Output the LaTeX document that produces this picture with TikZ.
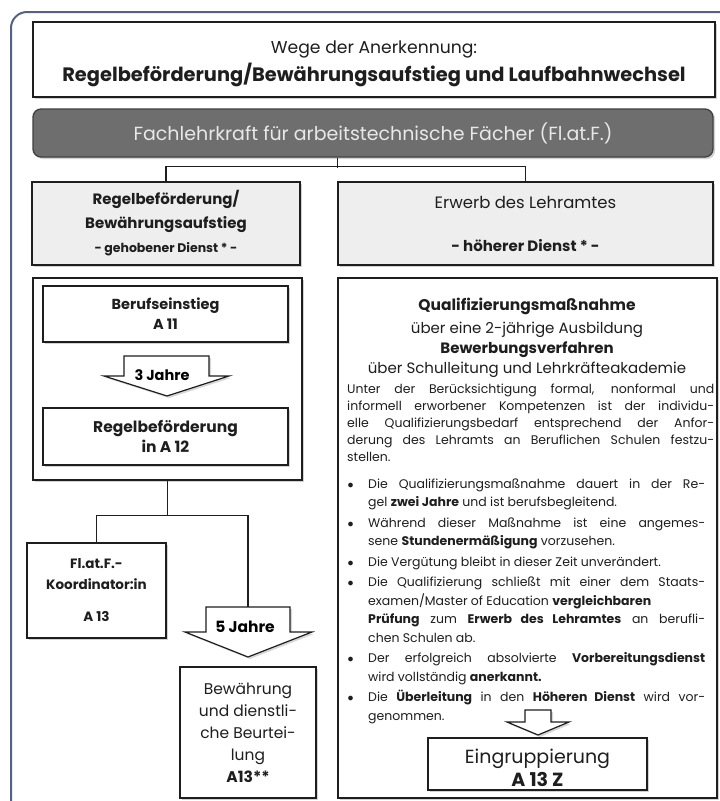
\documentclass[tikz,border=0pt]{standalone}
\usepackage{fontspec}
\setmainfont{Poppins}
\usetikzlibrary{shapes,arrows,shadows}
\definecolor{framegray}{RGB}{88,98,128}
\definecolor{bargray}{RGB}{110,110,110}
\definecolor{bartext}{RGB}{232,232,232}
\definecolor{headgray}{RGB}{238,238,238}
\definecolor{inkgray}{RGB}{30,30,30}
\newcommand{\fs}[2]{\fontsize{#1}{#2}\selectfont}
\newcommand{\bitem}{\par\noindent\hangindent=21pt\hangafter=1\makebox[21pt][l]{\hspace{0.5pt}$\bullet$}\ignorespaces}
\tikzstyle{box} = [draw=inkgray, line width=1.3pt, fill=white, rectangle, align=center,
    inner sep=0pt, text=inkgray,
    drop shadow={shadow xshift=2pt, shadow yshift=-2pt, opacity=0.35}]
\tikzstyle{headbox} = [box, fill=headgray]
\tikzstyle{link} = [draw=inkgray, line width=1.4pt]
\tikzstyle{bigarrow} = [draw=inkgray, line width=1.2pt, fill=white, line join=miter,
    drop shadow={shadow xshift=2pt, shadow yshift=-2pt, opacity=0.3}]
\tikzstyle{textblock} = [inner sep=0pt, text=inkgray, align=justify]

\begin{document}
\begin{tikzpicture}[x=1pt,y=-1pt]
    \useasboundingbox (0,0) rectangle (720,801);
    \fill[white] (0,0) rectangle (720,801);
    \begin{scope}
        \clip (0,0) rectangle (720,801);
        \draw[framegray, line width=2pt, rounded corners=16] (11,12) rectangle (760,830);
    \end{scope}

    % top
    \node[box, minimum width=682, minimum height=75, font=\fs{17.2}{28}] (title) at (374,59.5)
        {\rule{0pt}{21.5pt}Wege der Anerkennung:\\
         \fs{19.4}{28}\bfseries Regelbeförderung/Bewährungsaufstieg und Laufbahnwechsel};
    \node[box, fill=bargray, draw=inkgray!85, rounded corners=8, text=bartext,
        minimum width=680, minimum height=48, font=\fs{19}{22}] (fachbar) at (373,133)
        {Fachlehrkraft für arbeitstechnische Fächer (Fl.at.F.)};

    \node[headbox, minimum width=268, minimum height=83, font=\bfseries\fs{15}{24}] (lhead) at (166,223.5)
        {Regelbeförderung/\\Bewährungsaufstieg\\
         \fs{12.5}{24}- gehobener Dienst * -};
    \node[headbox, minimum width=375, minimum height=83, font=\fs{16.5}{22}] (rhead) at (525.5,223.5)
        {Erwerb des Lehramtes\\[21pt]
         \bfseries\fs{15}{22}- höherer Dienst * -};
    \draw[link] (fachbar.south -| rhead.west) -- ++(0,10);
    \draw[link] (lhead.north) -- ++(0,-15) -| (rhead.north);

    % left column
    \node[box, minimum width=269, minimum height=202] (lgroup) at (167.5,379) {};
    \node[box, minimum width=245, minimum height=56, font=\bfseries\fs{14.5}{20}] (berufs) at (165.5,314)
        {Berufseinstieg\\A 11};
    \draw[bigarrow] (124,356) -- (209,356) -- (209,376) -- (229,376) -- (167,396)
        -- (104,376) -- (124,376) -- cycle;
    \node[anchor=base, inner sep=0pt, font=\bfseries\fs{14.5}{20}] (jahre3) at (162,380) {3 Jahre};
    \node[box, minimum width=245, minimum height=57, font=\bfseries\fs{15.5}{20}] (regel) at (165.5,436.5)
        {Regelbeförderung\\in A 12};

    \node[box, minimum width=139, minimum height=95, font=\bfseries\fs{13.5}{21}] (koord) at (96.5,590.5)
        {Fl.at.F.-\\Koordinator:in\\[11pt]A 13};
    \coordinate (arr5top) at (248,607);
    \draw[link] (lgroup.south) -- ++(0,35) coordinate (forkL);
    \draw[link] (koord.north) |- (forkL) -| (arr5top);
    \draw[bigarrow] (206,607) -- (290,607) -- (290,632) -- (312,632) -- (248,657)
        -- (185,632) -- (206,632) -- cycle;
    \node[anchor=base, inner sep=0pt, font=\bfseries\fs{15.5}{20}] (jahre5) at (245,632) {5 Jahre};
    \node[box, minimum width=136, minimum height=131, font=\fs{15.5}{22}] (bewaehr) at (248,732.5)
        {Bewährung\\und dienstli-\\che Beurtei-\\lung\\\bfseries A13**};

    % right column
    \node[box, minimum width=379, minimum height=520] (rbig) at (527.5,538) {};
    \node[anchor=north, inner sep=0pt, align=center, text=inkgray, font=\fs{15}{20}] (qtitle) at (527,297.5)
        {\bfseries\fs{15.5}{20}Qualifizierungsmaßnahme\\[3pt]
         über eine 2-jährige Ausbildung\\
         \bfseries Bewerbungsverfahren\\
         über Schulleitung und Lehrkräfteakademie};
    \node[textblock, anchor=north west, text width=367, font=\fs{12.5}{17}] (quali) at (347,384)
        {\tolerance=9999 Unter der Berücksichtigung formal, nonformal und\linebreak
         informell erworbener Kompetenzen ist der individu-\linebreak
         elle Qualifizierungsbedarf entsprechend der Anfor-\linebreak
         derung des Lehramts an Beruflichen Schulen festzu-\linebreak
         stellen.};
    \node[textblock, anchor=north west, text width=358, font=\fs{12.5}{18.5}] (punkte) at (347,467.5)
        {\tolerance=9999 \parskip=2pt
         \bitem Die Qualifizierungsmaßnahme dauert in der Re-\linebreak
         gel \textbf{zwei Jahre} und ist berufsbegleitend.
         \bitem Während dieser Maßnahme ist eine angemes-\linebreak
         sene \textbf{Stundenermäßigung} vorzusehen.
         \bitem Die Vergütung bleibt in dieser Zeit unverändert.
         \bitem Die Qualifizierung schließt mit einer dem Staats-\linebreak
         examen/Master of Education \textbf{vergleichbaren}\newline
         \textbf{Prüfung} zum \textbf{Erwerb des Lehramtes} an berufli-\linebreak
         chen Schulen ab.
         \bitem Der erfolgreich absolvierte \textbf{Vorbereitungsdienst}\linebreak
         wird vollständig \textbf{anerkannt.}
         \bitem Die \textbf{Überleitung} in den \textbf{Höheren Dienst} wird vor-\linebreak
         genommen.\par};
    \draw[bigarrow] (525,710) -- (551,710) -- (551,722) -- (569,722) -- (538,735)
        -- (507,722) -- (525,722) -- cycle;
    \node[box, minimum width=219, minimum height=52, font=\fs{19}{23}] (eingr) at (537.5,764)
        {\rule{0pt}{22pt}Eingruppierung\\\bfseries A 13 Z};
\end{tikzpicture}
\end{document}
